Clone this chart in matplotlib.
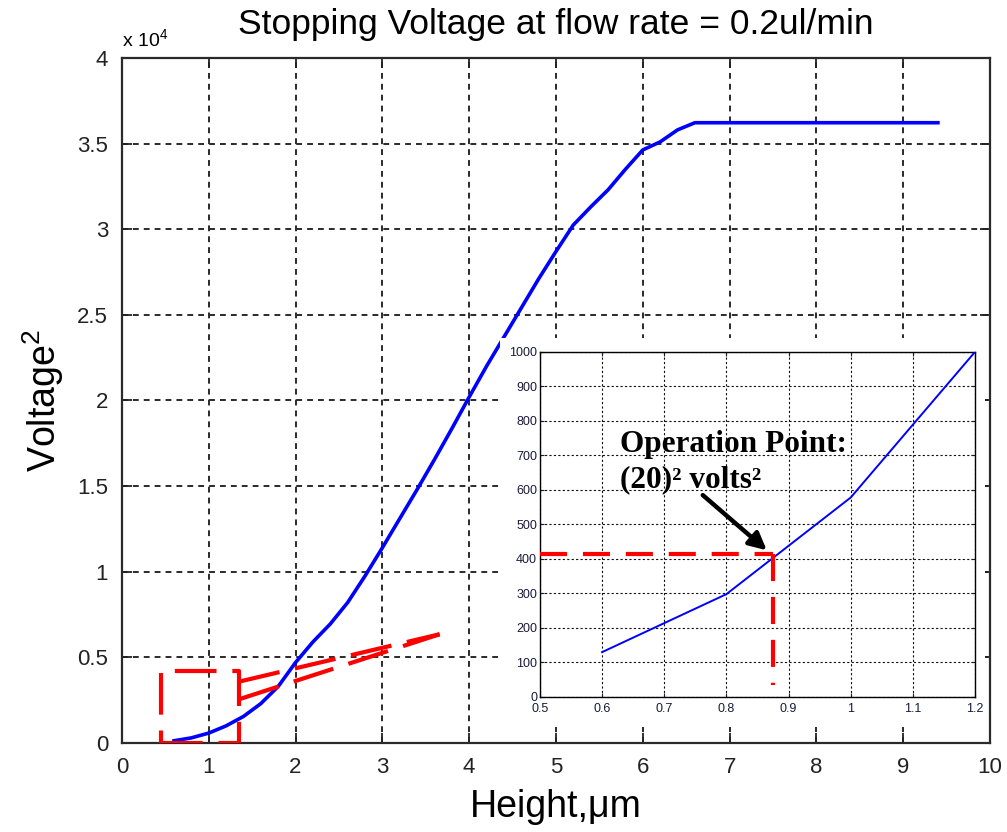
import matplotlib
matplotlib.use('Agg')
import matplotlib.pyplot as plt
from matplotlib.ticker import FixedLocator, FuncFormatter

plt.rcParams['font.family'] = ['Liberation Sans', 'DejaVu Sans']
plt.rcParams['mathtext.fontset'] = 'custom'
plt.rcParams['mathtext.rm'] = 'Liberation Sans'
plt.rcParams['mathtext.it'] = 'Liberation Sans:italic'
plt.rcParams['mathtext.bf'] = 'Liberation Sans:bold'

# ---------------- data ----------------
height_um = [0.6, 0.8, 1.0, 1.2, 1.4, 1.6, 1.8, 2.0, 2.2, 2.4, 2.6, 2.8, 3.0,
             3.2, 3.4, 3.6, 3.8, 4.0, 4.2, 4.4, 4.6, 4.8, 5.0, 5.2, 5.4, 5.6,
             5.8, 6.0, 6.2, 6.4, 6.6, 7.0, 8.0, 9.0, 9.4]
voltage_sq = [130, 298, 578, 1000, 1550, 2300, 3300, 4700, 5900, 6950, 8200,
              9750, 11400, 13100, 14800, 16550, 18350, 20200, 22000, 23700,
              25400, 27100, 28700, 30250, 31300, 32300, 33500, 34630, 35100,
              35800, 36220, 36220, 36220, 36220, 36220]

inset_height = [0.6, 0.8, 1.0, 1.2]
inset_voltage_sq = [130, 298, 578, 1000]

op_height = 0.875
op_voltage_sq = 415

main_xticks = [0, 1, 2, 3, 4, 5, 6, 7, 8, 9, 10]
main_yticks = [0, 5000, 10000, 15000, 20000, 25000, 30000, 35000, 40000]
inset_xticks = [0.5, 0.6, 0.7, 0.8, 0.9, 1.0, 1.1, 1.2]
inset_xticklabels = ['0.5', '0.6', '0.7', '0.8', '0.9', '1', '1.1', '1.2']
inset_yticks = [0, 100, 200, 300, 400, 500, 600, 700, 800, 900, 1000]

# zoom-region marker (rectangle + two guide lines), data coords of main axes
box_x = [0.446, 1.348]
box_y = [0, 4200]
guide_upper = ([1.348, 3.66], [3580, 6350])
guide_lower = ([1.348, 3.66], [2550, 6350])

# ---------------- figure ----------------
fig = plt.figure(figsize=(10.07, 8.32), dpi=100)
ax = fig.add_axes([0.1211, 0.107, 0.862, 0.8233])

grid_kw = dict(color='#2a2a2a', linestyle=(0, (3.0, 2.6)), linewidth=1.4)
ax.plot(height_um, voltage_sq, color='#0000ff', linewidth=2.6, zorder=3)
ax.set_xlim(0, 10)
ax.set_ylim(0, 40000)
ax.xaxis.set_major_locator(FixedLocator(main_xticks))
ax.yaxis.set_major_locator(FixedLocator(main_yticks))
ax.yaxis.set_major_formatter(FuncFormatter(lambda v, p: ('%g' % (v / 1e4))))
ax.grid(True, **grid_kw)
ax.tick_params(direction='in', length=7, width=1.3, top=True, right=True,
               labelsize=16, colors='#222222', pad=10)
ax.tick_params(axis='y', pad=10)
for s in ax.spines.values():
    s.set_color('#2a2a2a')
    s.set_linewidth(1.6)

ax.set_title('Stopping Voltage at flow rate = 0.2ul/min', fontsize=25.5, pad=17)
ax.set_xlabel('Height,μm', fontsize=27, labelpad=8)
ax.set_ylabel('Voltage$^{2}$', fontsize=27, labelpad=8)
ax.text(0.0, 1.012, 'x 10$^{4}$', transform=ax.transAxes, fontsize=14,
        ha='left', va='bottom')

red_kw = dict(color='#ff0000', linewidth=3.0, linestyle=(0, (10, 3.8)), zorder=4)
ax.plot([box_x[0], box_x[1], box_x[1], box_x[0], box_x[0]],
        [box_y[0], box_y[0], box_y[1], box_y[1], box_y[0]], **red_kw)
ax.plot(guide_upper[0], guide_upper[1], **red_kw)
ax.plot(guide_lower[0], guide_lower[1], **red_kw)

# white pasted panel behind the inset
panel = fig.add_axes([0.4965, 0.1262, 0.4816, 0.4675], zorder=2)
panel.set_facecolor('white')
panel.set_xticks([])
panel.set_yticks([])
for s in panel.spines.values():
    s.set_visible(False)

# ---------------- inset ----------------
ax_in = fig.add_axes([0.5362, 0.1623, 0.4320, 0.4147], zorder=3)
ax_in.plot(inset_height, inset_voltage_sq, color='#0000ff', linewidth=1.4, zorder=3)
ax_in.set_xlim(0.5, 1.2)
ax_in.set_ylim(0, 1000)
ax_in.xaxis.set_major_locator(FixedLocator(inset_xticks))
ax_in.set_xticklabels(inset_xticklabels)
ax_in.yaxis.set_major_locator(FixedLocator(inset_yticks))
ax_in.grid(True, color='#111111', linestyle=(0, (2, 2)), linewidth=0.8)
ax_in.tick_params(direction='in', length=3, width=0.8, top=True, right=True,
                  labelsize=9, colors='#1a1a3a', pad=2)
ax_in.tick_params(axis='x', pad=4)
for s in ax_in.spines.values():
    s.set_color('black')
    s.set_linewidth(1.0)

red_in = dict(color='#ff0000', linewidth=3.0, linestyle=(0, (6.5, 3.8)), zorder=4)
ax_in.plot([0.5, op_height], [op_voltage_sq, op_voltage_sq], **red_in)
ax_in.plot([op_height, op_height], [op_voltage_sq, 35], **red_in)

ax_in.annotate('', xy=(0.865, 425), xytext=(0.762, 585),
               arrowprops=dict(arrowstyle='-|>', lw=3.2, color='black',
                               mutation_scale=26, shrinkA=0, shrinkB=0),
               zorder=5)
ax_in.text(0.629, 710, 'Operation Point:', fontsize=22.5, fontweight='bold',
           family=['Liberation Serif', 'DejaVu Serif'], ha='left',
           va='baseline', zorder=5)
ax_in.text(0.629, 609, '(20)² volts²', fontsize=22.5, fontweight='bold',
           family=['Liberation Serif', 'DejaVu Serif'], ha='left',
           va='baseline', zorder=5)

fig.savefig('out.png', dpi=100)
